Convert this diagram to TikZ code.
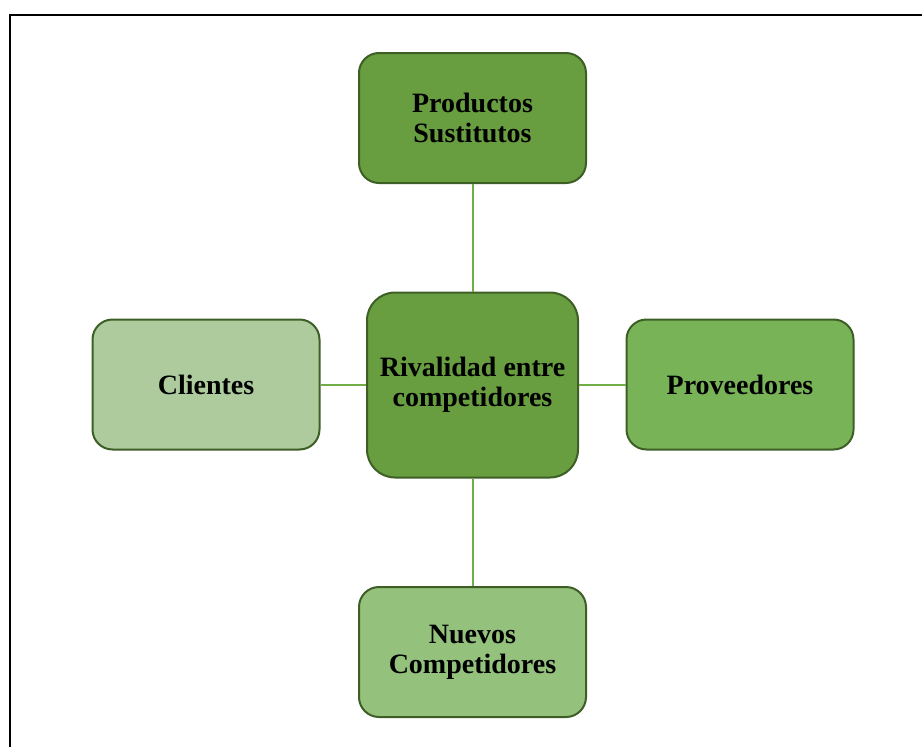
\documentclass[tikz,border=0pt]{standalone}
\usepackage{fontspec}
\setmainfont{Liberation Serif}
\definecolor{gdark}{HTML}{689D40}
\definecolor{gmid}{HTML}{79B357}
\definecolor{gsoft}{HTML}{94C17C}
\definecolor{glight}{HTML}{ADCB9D}
\definecolor{gborder}{HTML}{3D5F25}
\definecolor{glink}{HTML}{70AD47}
\tikzset{
  force/.style={draw=gborder, line width=2pt, rounded corners=20pt,
    minimum width=227pt, minimum height=130pt, inner sep=0pt,
    align=center, text=black,
    font=\fontsize{28}{30}\selectfont\bfseries},
  hub/.style={force, rounded corners=28pt, minimum width=211pt, minimum height=185pt},
  link/.style={draw=glink, line width=2pt}
}
\begin{document}
\begin{tikzpicture}[x=1pt,y=-1pt]
  \useasboundingbox (0,0) rectangle (922,747);
  % page frame (left and top edges)
  \draw[line width=2.5pt, black] (10,747) -- (10,15) -- (922,15);

  \node[hub, fill=gdark] (hub) at (472.5,385) {Rivalidad entre\\competidores};
  \node[force, fill=gdark] (sust) at (472.5,118) {Productos\\Sustitutos};
  \node[force, fill=gsoft] (nuevos) at (472.5,652) {Nuevos\\Competidores};
  \node[force, fill=glight] (cli) at (206,384.5) {Clientes};
  \node[force, fill=gmid] (prov) at (740,384.5) {Proveedores};

  \draw[link] (sust.south) -- (hub.north);
  \draw[link] (hub.south) -- (nuevos.north);
  \draw[link] (cli.east) -- (cli.east -| hub.west);
  \draw[link] (hub.east |- prov.west) -- (prov.west);
\end{tikzpicture}
\end{document}
